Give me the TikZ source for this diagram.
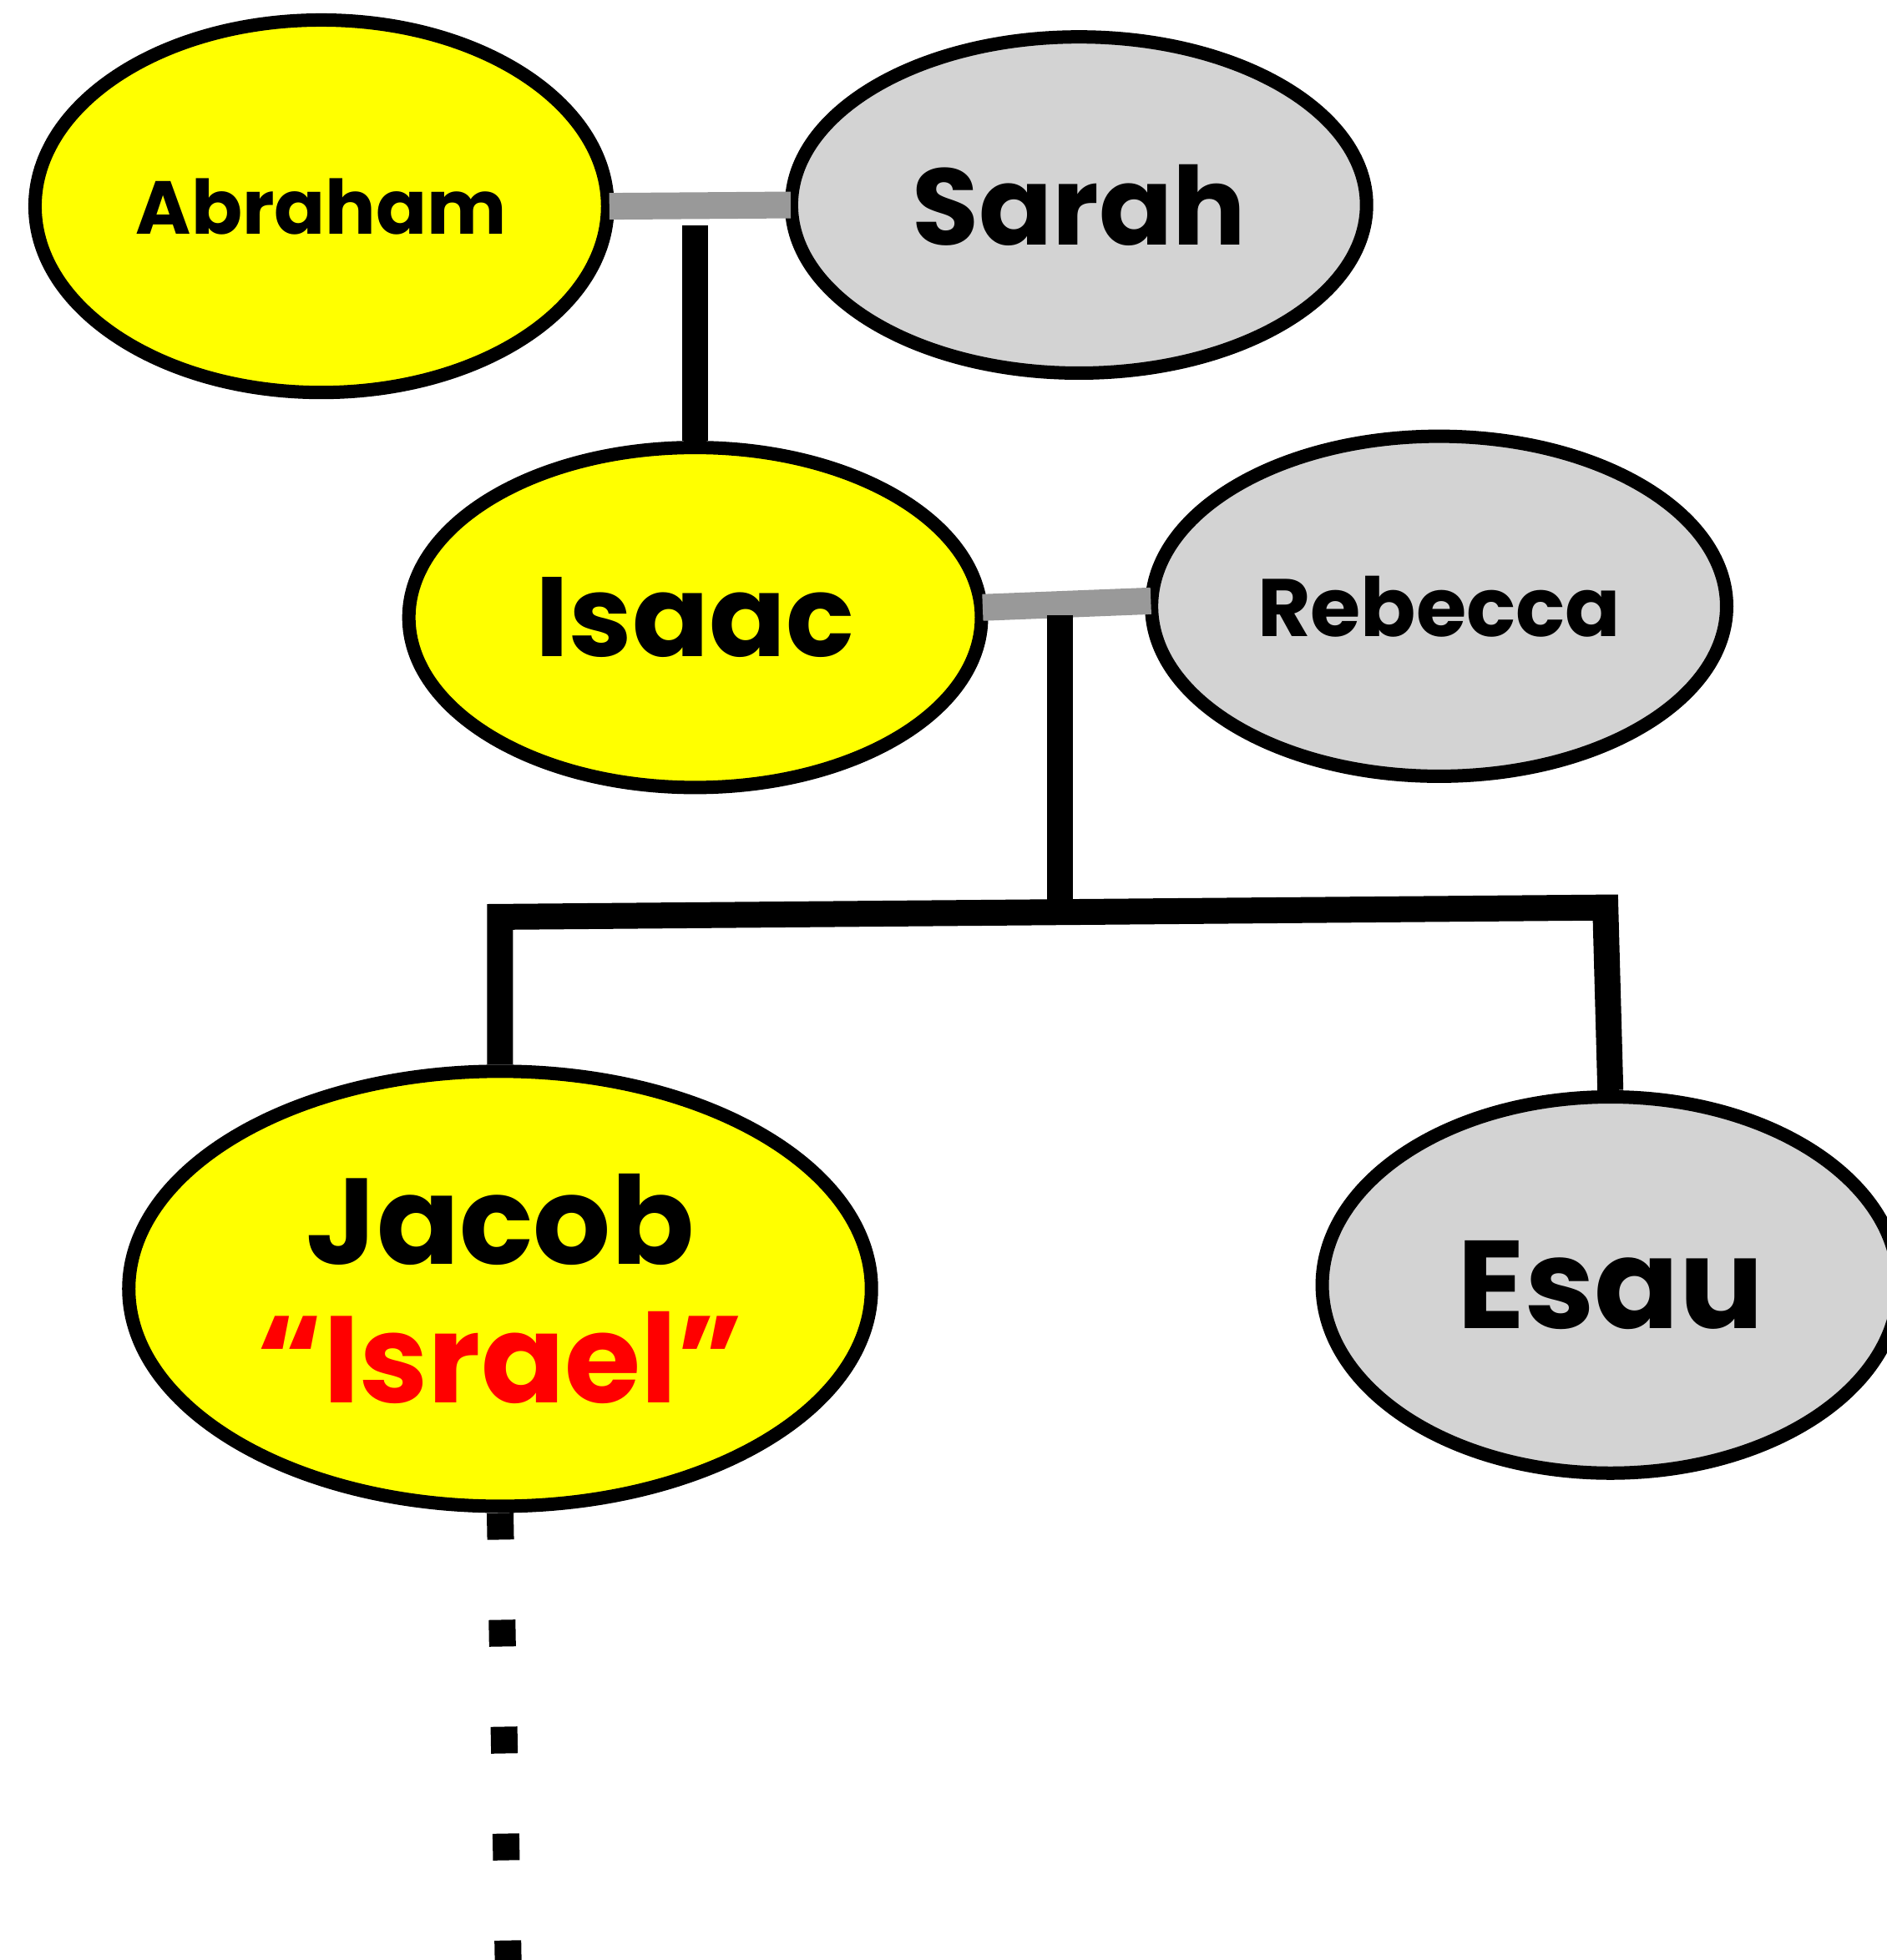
\documentclass[tikz,border=0pt]{standalone}
\usepackage{fontspec}
\setmainfont{Poppins}
\usetikzlibrary{shapes.geometric}
\definecolor{spousebar}{HTML}{999999}
\definecolor{sidefill}{HTML}{D3D3D3}
\definecolor{heirfill}{HTML}{FFFF00}
\definecolor{newname}{HTML}{FF0000}
\newcommand{\dpx}{0.01497cm}

\begin{document}
\begin{tikzpicture}[x=\dpx,y=-\dpx,
			person/.style={ellipse,draw,line width=0.16cm,inner sep=0pt,font=\bfseries},
			chosen/.style={person,fill=heirfill},
			other/.style={person,fill=sidefill},
			marriage/.style={draw=spousebar,line width=0.32cm,shorten <=-0.06cm,shorten >=-0.07cm},
			descent/.style={draw,line width=0.31cm,line join=miter},
			lineage/.style={draw,line width=0.32cm,dash pattern=on 0.32cm off 0.96cm}]
			\useasboundingbox (0,0) rectangle (1509,1568);
			% first generation
			\node (abraham) [chosen,minimum width=458*\dpx,minimum height=298*\dpx] at (257,165) {\fontsize{25.6}{30}\selectfont Abraham};
			\node (sarah) [other,minimum width=460*\dpx,minimum height=269*\dpx] at (863,164) {\fontsize{37}{44}\selectfont Sarah};
			% second generation
			\node (isaac) [chosen,minimum width=458*\dpx,minimum height=272*\dpx] at (556,494) {\fontsize{38.5}{46}\selectfont Isaac};
			\node (rebecca) [other,minimum width=460*\dpx,minimum height=272*\dpx] at (1151,485) {\fontsize{27.8}{34}\selectfont Rebecca};
			% third generation
			\node (jacob) [chosen,align=center,minimum width=594*\dpx,minimum height=348*\dpx] at (400,1031)
				{\fontsize{41.6}{50}\selectfont Jacob\\[0.52cm]
				\fontsize{42}{50}\selectfont\color{newname}“Israel”};
			\node (esau) [other,minimum width=461*\dpx,minimum height=301*\dpx] at (1288,1028) {\fontsize{42.6}{50}\selectfont Esau};
			\coordinate (as) at (556,180);
			\coordinate (ir) at (848,492);
			\coordinate (sibl) at (400,733.5);
			\coordinate (sibr) at (1284,726);
			\coordinate (line) at (407,1600);
			\draw [marriage] (abraham.east) -- (sarah.west);
			\draw [descent] (as) -- (isaac.north);
			\draw [marriage] (isaac.2.5) -- (rebecca.179);
			\draw [descent] (ir) -- (ir |- sibr);
			\draw [descent] (jacob.north) -- (sibl) -- (sibr) -- (esau.north);
			\draw [lineage] (jacob.south) -- (line);
		\end{tikzpicture}
\end{document}
